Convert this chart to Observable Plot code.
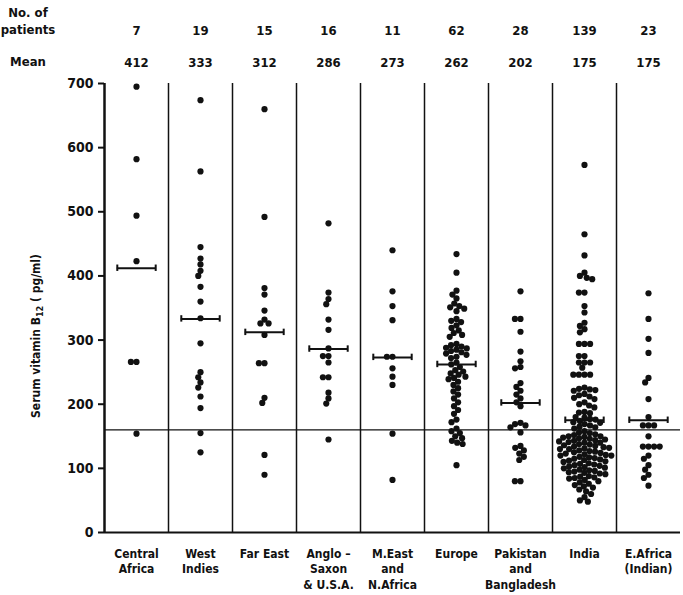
<!DOCTYPE html>
<html>
<head>
<meta charset="utf-8">
<script src="https://cdn.jsdelivr.net/npm/d3@7"></script>
<script src="https://cdn.jsdelivr.net/npm/@observablehq/plot@0.6"></script>
<style>
  body { margin: 0; background: #fff; }
  #chart svg { display: block; }
  #chart svg g[aria-label="y-axis tick"] path { stroke-width: 2; }
</style>
</head>
<body>
<div id="chart"></div>
<script>
const groups = ["Central Africa", "West Indies", "Far East", "Anglo-Saxon & U.S.A.", "M.East and N.Africa", "Europe", "Pakistan and Bangladesh", "India", "E.Africa (Indian)"];
const groupLabels = ["Central\nAfrica", "West\nIndies", "Far East", "Anglo –\nSaxon\n& U.S.A.", "M.East\nand\nN.Africa", "Europe", "Pakistan\nand\nBangladesh", "India", "E.Africa\n(Indian)"];
const patients = [7, 19, 15, 16, 11, 62, 28, 139, 23];
const means = [412, 333, 312, 286, 273, 262, 202, 175, 175];
const yTicks = [0, 100, 200, 300, 400, 500, 600, 700];
const lowerLimit = 160;

const centralAfrica = [695, 582, 494, 423, 266, 266, 154];
const westIndies = [674, 563, 445, 427, 418, 408, 400, 383, 360, 334, 295, 250, 242, 234, 226, 212, 194, 155, 125];
const farEast = [660, 492, 381, 371, 346, 332, 326, 326, 308, 264, 264, 210, 202, 121, 90];
const angloSaxon = [482, 374, 364, 356, 332, 316, 287, 275, 275, 265, 242, 242, 218, 209, 201, 145];
const mEastNAfrica = [440, 376, 353, 331, 274, 274, 256, 243, 230, 154, 82];
const europe = [434, 405, 377, 371, 365, 357, 353, 351, 349, 345, 333, 330, 328, 323, 319, 315, 311, 308, 305,
  294, 292, 290, 288, 287, 285, 283, 281, 279, 277, 274, 272, 265, 262, 258, 253, 251, 248, 246, 243, 241, 239,
  235, 230, 225, 220, 215, 209, 203, 197, 191, 185, 176, 172, 162, 158, 155, 150, 147, 143, 140, 138, 105];
const pakistanBangladesh = [376, 333, 333, 313, 282, 267, 258, 256, 233, 227, 221, 215, 209, 203, 197, 171, 169, 167, 164, 156, 135, 132, 128, 123, 118, 113, 80, 80];
const india = [573, 465, 432, 405, 400, 397, 395, 374, 374, 353, 343, 327, 322, 317, 312, 294, 294, 294,
  275, 275, 265, 265, 265, 257, 246, 246, 246, 246, 226, 224, 223, 222, 221, 216, 214, 212, 210, 208,
  203, 200, 198, 195, 188, 187, 186, 180, 179, 177, 176, 174, 172, 171, 169, 167, 165, 164, 162,
  158, 156, 155, 153, 152, 150, 150, 149, 148, 147, 146, 145, 144, 143, 142, 141, 140, 140,
  138, 137, 136, 135, 134, 133, 132, 131, 130, 130, 128, 127, 126, 125, 124, 123, 122, 121, 120, 120,
  118, 117, 116, 115, 114, 113, 112, 111, 110, 108, 107, 106, 105, 104, 103, 102, 101, 100,
  98, 97, 96, 95, 94, 93, 92, 91, 88, 87, 86, 85, 84, 82, 80, 78, 76, 74, 72, 70, 67, 64, 60, 55, 50, 48];
const eAfricaIndian = [373, 333, 302, 280, 241, 234, 208, 180, 167, 167, 167, 150, 134, 134, 134, 134, 120, 115, 105, 98, 90, 85, 73];

const valuesByGroup = [centralAfrica, westIndies, farEast, angloSaxon, mEastNAfrica, europe, pakistanBangladesh, india, eAfricaIndian];
const data = groups.flatMap((g, i) => valuesByGroup[i].map(v => ({group: g, value: v})));
const meanData = groups.map((g, i) => ({group: g, mean: means[i]}));

const ink = "#111";
const plot = Plot.plot({
  width: 683,
  height: 595,
  marginLeft: 100,
  marginRight: 0,
  marginTop: 83,
  marginBottom: 63,
  style: {fontFamily: "'DejaVu Sans Condensed', 'DejaVu Sans', sans-serif", fontSize: "14px", fontWeight: "bold", background: "#fff", color: ink},
  fx: {domain: groups, padding: 0, axis: null, label: null},
  x: {domain: [0, 1], axis: null},
  y: {domain: [0, 700], ticks: yTicks, tickSize: 6, tickPadding: 5, label: null, tickFormat: d => String(d)},
  marks: [
    Plot.ruleY([lowerLimit], {stroke: ink, strokeWidth: 1.3}),
    Plot.ruleY([0], {stroke: ink, strokeWidth: 2}),
    Plot.ruleX(groups, {fx: d => d, x: 0, y1: 0, y2: 700, stroke: ink, strokeWidth: (d, i) => i === 0 ? 2.5 : 1.5}),
    Plot.dot(data, Plot.dodgeX({anchor: "middle", padding: -0.6, fx: "group", y: "value", r: 3.1, fill: ink})),
    Plot.ruleY(meanData, {fx: "group", y: "mean", x1: 0.2, x2: 0.8, stroke: ink, strokeWidth: 2}),
    Plot.ruleX(meanData, {fx: "group", x: 0.2, y1: d => d.mean - 5, y2: d => d.mean + 5, stroke: ink, strokeWidth: 2}),
    Plot.ruleX(meanData, {fx: "group", x: 0.8, y1: d => d.mean - 5, y2: d => d.mean + 5, stroke: ink, strokeWidth: 2}),
    Plot.text(groups, {fx: d => d, text: (d, i) => String(patients[i]), frameAnchor: "top", lineAnchor: "middle", dy: -53, fill: ink, fontSize: 13}),
    Plot.text(groups, {fx: d => d, text: (d, i) => String(means[i]), frameAnchor: "top", lineAnchor: "middle", dy: -21, fill: ink, fontSize: 13}),
    Plot.text(groups, {fx: d => d, text: (d, i) => groupLabels[i], frameAnchor: "bottom", lineAnchor: "top", dy: 14, lineHeight: 1.3, fill: ink, fontSize: 12})
  ]
});

const svg = d3.select(plot);
const hdr = svg.append("g").attr("fill", ink).attr("font-size", 13).attr("font-weight", "bold");
hdr.append("text").attr("x", 28).attr("y", 17).text("No. of");
hdr.append("text").attr("x", 28).attr("y", 34).text("patients");
hdr.append("text").attr("x", 28).attr("y", 66).text("Mean");

const yl = svg.append("text")
  .attr("transform", "translate(40,336) rotate(-90)")
  .attr("text-anchor", "middle")
  .attr("fill", ink)
  .attr("font-size", 12)
  .attr("font-weight", "bold");
yl.append("tspan").text("Serum vitamin B");
yl.append("tspan").attr("dy", 3).attr("font-size", 9).text("12");
yl.append("tspan").attr("dy", -3).text(" ( pg/ml)");

document.getElementById("chart").append(plot);
</script>
</body>
</html>
